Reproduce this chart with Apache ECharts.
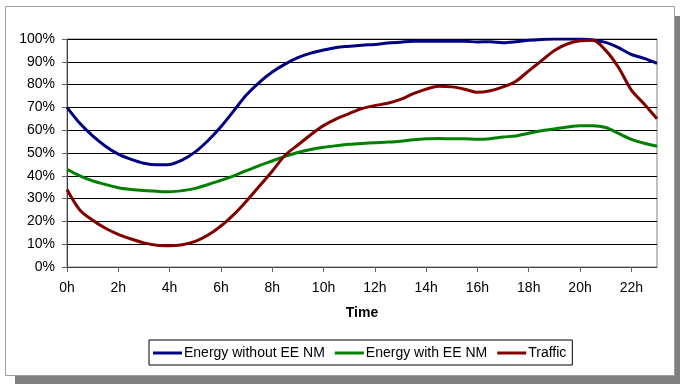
<!DOCTYPE html>
<html><head><meta charset="utf-8">
<script src="https://cdn.jsdelivr.net/npm/echarts@6/dist/echarts.min.js"></script>
<style>html,body{margin:0;padding:0;background:#fff}#c{width:680px;height:384px}</style>
</head><body><div id="c"></div>
<script>
const hours = [0,0.5,1,1.5,2,2.5,3,3.5,4,4.5,5,5.5,6,6.5,7,7.5,8,8.5,9,9.5,10,10.5,11,11.5,12,12.5,13,13.5,14,14.5,15,15.5,16,16.5,17,17.5,18,18.5,19,19.5,20,20.5,21,21.5,22,22.5,23];
const energyWithout = [70,63,57.5,53,49.5,47.2,45.5,44.8,45,47,50.5,55.5,61.5,68.5,75.5,81,85.5,89,91.8,93.8,95.2,96.3,96.8,97.3,97.6,98.2,98.6,99,99,99,99,99,98.7,98.8,98.4,98.8,99.4,99.8,100,100,100,99.6,98.5,96.2,93.2,91.5,89.3];
const energyWith = [42.8,40,37.8,36.2,34.8,34,33.5,33.2,33,33.5,34.5,36.2,38,40,42.3,44.5,46.5,48.5,50.2,51.5,52.5,53.2,53.8,54.2,54.5,54.8,55.2,55.8,56.2,56.4,56.2,56.2,56,56.3,57,57.5,58.7,59.8,60.5,61.4,62,62,61.2,58.6,56,54.3,53];
const traffic = [34,25,20.5,17,14.3,12.3,10.6,9.5,9.3,9.8,11.2,14,18,23,29,35.5,42,49,53.5,58,62,65,67.3,69.5,70.8,71.8,73.5,76,78,79.3,79,78,76.6,77.3,79,81.5,86,90.5,95,97.8,99.2,99.5,95,87.5,77.6,71.5,65];
const xTicks = [0,2,4,6,8,10,12,14,16,18,20,22];
const seriesNames = ['Energy without EE NM','Energy with EE NM','Traffic'];
const colors = ['#000080','#008000','#800000'];

const pair = arr => hours.map((h,i)=>[h,arr[i]]);
const font = 'Liberation Sans, Arial, sans-serif';
const chart = echarts.init(document.getElementById('c'), null, {renderer:'canvas'});
chart.setOption({
  animation:false,
  textStyle:{fontFamily:font},
  graphic:[
    {type:'rect', z:-10, shape:{x:15,y:16,width:665,height:368}, style:{fill:'#808080'}},
    {type:'rect', z:-9, shape:{x:5.5,y:6.5,width:669,height:369}, style:{fill:'#fff', stroke:'#a0a0a0', lineWidth:1}}
  ],
  grid:{left:67, top:39, width:590, height:228, show:true, borderColor:'#808080', borderWidth:1, backgroundColor:'transparent'},
  legend:{
    left:149, top:340, orient:'horizontal',
    data:seriesNames,
    icon:'rect', itemWidth:29, itemHeight:3, itemGap:10,
    padding:[6,6,5,4],
    borderColor:'#000', borderWidth:1, backgroundColor:'#fff',
    textStyle:{fontFamily:font, fontSize:14, color:'#000', padding:[0,0,0,-3]}
  },
  xAxis:{
    type:'value', min:0, max:23, interval:2,
    name:'Time', nameLocation:'middle', nameGap:39,
    nameTextStyle:{fontFamily:font, fontSize:14, fontWeight:'bold', color:'#000'},
    axisLine:{show:true, lineStyle:{color:'#404040', width:1}},
    axisTick:{show:true, length:5, lineStyle:{color:'#606060'}, customValues:xTicks},
    axisLabel:{fontFamily:font, fontSize:14, color:'#000', margin:14, customValues:xTicks, formatter:v=>v+'h'},
    splitLine:{show:false}
  },
  yAxis:{
    type:'value', min:0, max:100, interval:10,
    axisLine:{show:true, lineStyle:{color:'#404040', width:1}},
    axisTick:{show:true, length:5, lineStyle:{color:'#606060'}},
    axisLabel:{fontFamily:font, fontSize:14, color:'#000', margin:12, formatter:v=>v+'%'},
    splitLine:{show:true, lineStyle:{color:'#000', width:1}}
  },
  series:[
    {name:seriesNames[0], type:'line', data:pair(energyWithout), smooth:0.3, showSymbol:false, lineStyle:{color:colors[0], width:3}, itemStyle:{color:colors[0]}},
    {name:seriesNames[1], type:'line', data:pair(energyWith), smooth:0.3, showSymbol:false, lineStyle:{color:colors[1], width:3}, itemStyle:{color:colors[1]}},
    {name:seriesNames[2], type:'line', data:pair(traffic), smooth:0.3, showSymbol:false, lineStyle:{color:colors[2], width:3}, itemStyle:{color:colors[2]}}
  ]
});
</script></body></html>
